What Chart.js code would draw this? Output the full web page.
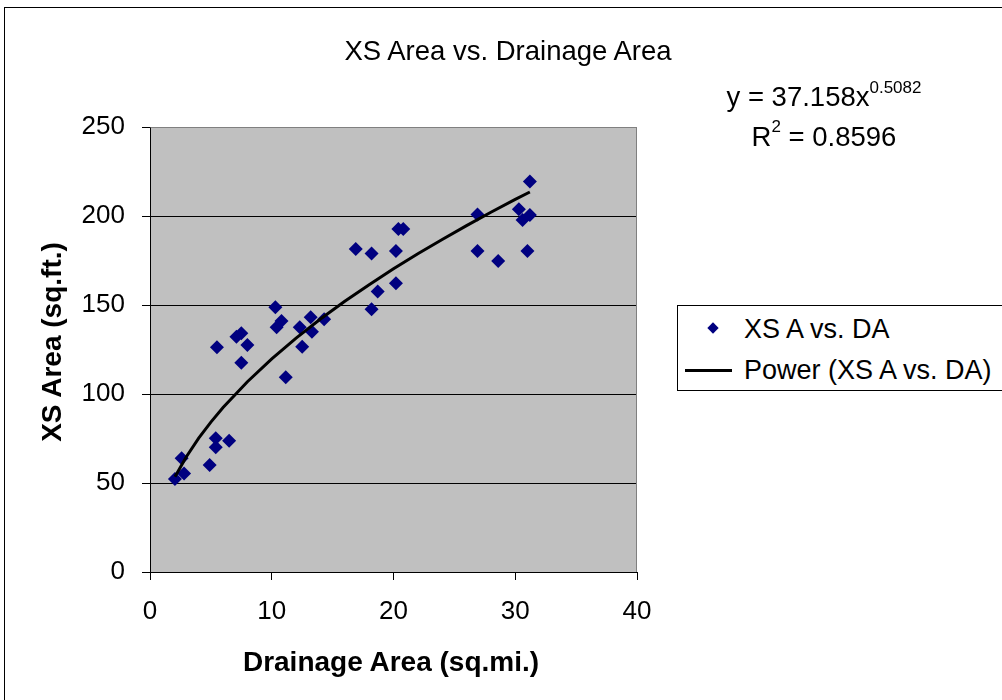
<!DOCTYPE html>
<html>
<head>
<meta charset="utf-8">
<script src="https://cdn.jsdelivr.net/npm/chart.js@4.4.0/dist/chart.umd.min.js"></script>
<style>
  html, body { margin:0; padding:0; background:#fff; overflow:hidden; }
  #wrap { position:relative; width:1002px; height:700px; font-family:"Liberation Sans", Arial, sans-serif; color:#000; }
  #c { position:absolute; left:0; top:0; }
  .frame { position:absolute; left:4px; top:7px; width:1100px; height:800px; border-left:1px solid #000; border-top:1px solid #000; }
  .txt { position:absolute; white-space:nowrap; line-height:1; }
  .eq { position:absolute; left:624px; width:400px; text-align:center; white-space:nowrap; line-height:1; font-size:27.5px; }
  .eq sup { font-size:17px; vertical-align:0; position:relative; top:-0.8em; }
  .legend { position:absolute; left:677px; top:305px; width:400px; height:84px; border:1px solid #000; background:#fff; }
</style>
</head>
<body>
<div id="wrap">
  <div class="frame"></div>
  <canvas id="c" width="1002" height="700"></canvas>
  <div class="txt" id="title" style="font-size:27.5px; left:308px; width:400px; text-align:center; top:36.7px;">XS Area vs. Drainage Area</div>
  <div class="eq" style="top:83.4px;">y = 37.158x<sup>0.5082</sup></div>
  <div class="eq" style="top:122.7px;">R<sup>2</sup> = 0.8596</div>
  <div class="txt" id="ytitle" style="font-size:28px; font-weight:bold; width:400px; text-align:center; left:-148px; top:328px; transform:rotate(-90deg); transform-origin:200px 14px;">XS Area (sq.ft.)</div>
  <div class="txt" id="xtitle" style="font-size:28px; font-weight:bold; width:400px; text-align:center; left:191px; top:648.3px;">Drainage Area (sq.mi.)</div>
  <div class="legend"></div>
  <div style="position:absolute; left:709px; top:324px; width:8px; height:8px; background:#000080; transform:rotate(45deg);"></div>
  <div class="txt" style="font-size:27px; left:744px; top:315.9px;">XS A vs. DA</div>
  <div style="position:absolute; left:685px; top:368.5px; width:47px; height:3px; background:#000;"></div>
  <div class="txt" style="font-size:27px; left:744px; top:356.9px;">Power (XS A vs. DA)</div>
</div>
<script>
// Data
const drainageArea = [2.05, 2.6, 2.8, 4.9, 5.4, 5.4, 6.5, 5.5, 7.1, 7.5, 8.0, 7.5, 10.3, 10.8, 10.4, 11.15, 12.3, 12.5, 13.2, 13.3, 14.3, 16.9, 18.2, 18.7, 18.2, 20.2, 20.4, 20.8, 20.2, 26.9, 26.9, 28.6, 31.2, 30.3, 30.6, 31.2, 31.0];
const xsArea = [52.2, 63.9, 55.4, 60.1, 75.1, 70.1, 73.8, 126.2, 132.2, 134.1, 127.5, 117.6, 148.7, 141.0, 137.5, 109.4, 137.5, 126.6, 143.1, 135.0, 142.0, 181.5, 179.0, 157.6, 147.6, 180.3, 192.7, 192.7, 162.2, 200.8, 180.3, 174.7, 219.4, 203.8, 197.8, 200.6, 180.3];
// Power trendline
const trendX = [2.05, 3, 4, 5, 6, 8, 10, 12, 14, 16, 18, 20, 22, 24, 26, 28, 30, 31.2];
const trendY = [53.5, 64.9, 75.2, 84.2, 92.4, 106.9, 119.7, 131.4, 142.1, 152.1, 161.4, 170.3, 178.8, 186.8, 194.6, 202.1, 209.3, 213.5];
const xTicks = [0, 10, 20, 30, 40];
const yTicks = [0, 50, 100, 150, 200, 250];

const FONT = "'Liberation Sans', Arial, sans-serif";

const plotBg = {
  id: 'plotBg',
  beforeDraw(chart) {
    const a = chart.chartArea, ctx = chart.ctx;
    ctx.save();
    ctx.fillStyle = '#C0C0C0';
    ctx.fillRect(a.left, a.top, a.right - a.left, a.bottom - a.top);
    ctx.restore();
  },
  afterDatasetsDraw(chart) {},
  beforeDatasetsDraw(chart) {
    const a = chart.chartArea, ctx = chart.ctx;
    ctx.save();
    ctx.strokeStyle = '#808080';
    ctx.lineWidth = 1;
    ctx.beginPath();
    ctx.moveTo(Math.round(a.left) + 0.5, Math.round(a.top) + 0.5);
    ctx.lineTo(Math.round(a.right) - 0.5, Math.round(a.top) + 0.5);
    ctx.lineTo(Math.round(a.right) - 0.5, Math.round(a.bottom));
    ctx.stroke();
    ctx.restore();
  }
};

new Chart(document.getElementById('c'), {
  type: 'scatter',
  data: {
    datasets: [
      {
        label: 'XS A vs. DA',
        data: drainageArea.map((x, i) => ({ x: x, y: xsArea[i] })),
        pointStyle: 'rectRot',
        pointRadius: 7,
        pointBackgroundColor: '#000080',
        pointBorderColor: '#000080',
        pointBorderWidth: 0,
        order: 2
      },
      {
        type: 'line',
        label: 'Power (XS A vs. DA)',
        data: trendX.map((x, i) => ({ x: x, y: trendY[i] })),
        borderColor: '#000',
        borderWidth: 3,
        pointRadius: 0,
        fill: false,
        tension: 0,
        order: 1
      }
    ]
  },
  options: {
    responsive: false,
    animation: false,
    devicePixelRatio: 1,
    layout: { padding: { left: 0, top: 127, right: 365, bottom: 0 } },
    plugins: { legend: { display: false }, title: { display: false }, tooltip: { enabled: false } },
    scales: {
      x: {
        type: 'linear',
        min: 0, max: 40,
        afterFit(s) { s.height = 128; },
        afterBuildTicks(s) { s.ticks = xTicks.map(v => ({ value: v })); },
        ticks: { color: '#000', font: { family: FONT, size: 26 }, padding: 16, maxRotation: 0 },
        grid: { drawOnChartArea: false, drawTicks: true, tickLength: 8, tickColor: '#000', tickWidth: 1 },
        border: { color: '#000', width: 1 }
      },
      y: {
        type: 'linear',
        min: 0, max: 250,
        afterFit(s) { s.width = 150; },
        afterBuildTicks(s) { s.ticks = yTicks.map(v => ({ value: v })); },
        ticks: { color: '#000', font: { family: FONT, size: 26 }, padding: 17 },
        grid: {
          drawOnChartArea: true, drawTicks: true, tickLength: 8,
          color: (c) => (c.tick && c.tick.value === 250) ? '#808080' : '#000',
          tickColor: '#000', lineWidth: 1
        },
        border: { color: '#000', width: 1 }
      }
    }
  },
  plugins: [plotBg]
});
</script>
</body>
</html>
